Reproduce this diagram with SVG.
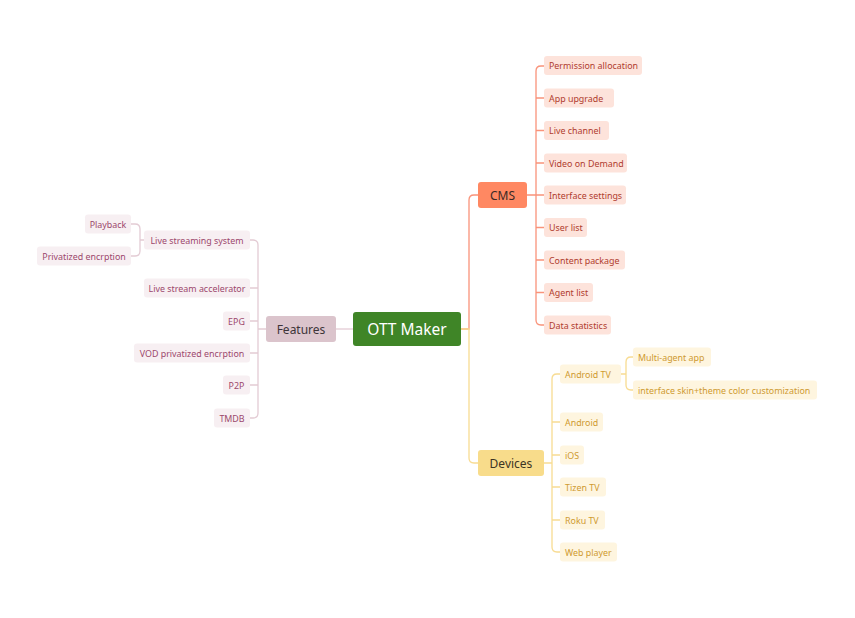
<svg xmlns="http://www.w3.org/2000/svg" width="855" height="618" viewBox="0 0 855 618">
<style>
text{font-family:"Noto Sans","Open Sans",sans-serif;dominant-baseline:central}
.c{fill:none;stroke-width:1.3}
.cc{stroke:#f9937a}
.cf{stroke:#e3cbd4}
.cd{stroke:#f8dc92}
.ct{fill:#fde3db}
.ctt{fill:#b03c2e;font-size:8.9px}
.ft{fill:#f7eff2}
.ftt{fill:#9c476c;font-size:8.9px}
.dt{fill:#fef5df}
.dtt{fill:#cf9a30;font-size:8.9px}
</style>
<rect width="855" height="618" fill="#ffffff"/>
<g id="connectors">
<path class="c cf" d="M353 329H336"/>
<path class="c cc" d="M461 329H469V200Q469 195 474 195H478"/>
<path class="c cd" d="M461 329H469V458Q469 463 474 463H478"/>
<path class="c cc" d="M527 195H544M536 195V71Q536 66 541 66H544M536 195V320Q536 325 541 325H544M536 98H544M536 130.5H544M536 163H544M536 227.5H544M536 260H544M536 292.5H544"/>
<path class="c cd" d="M544 463H552M552 463V379Q552 374 557 374H560M552 463V547Q552 552 557 552H560M552 422H560M552 455H560M552 487H560M552 520H560"/>
<path class="c cd" d="M621 374H626M626 374V362Q626 357 631 357H633M626 374V385Q626 390 631 390H633"/>
<path class="c cf" d="M266 329H258M258 329V245Q258 240 253 240H250M258 329V413Q258 418 253 418H250M258 288H250M258 321H250M258 353H250M258 385H250"/>
<path class="c cf" d="M144 240H140M140 240V229Q140 224 135 224H131M140 240V251Q140 256 135 256H131"/>
</g>
<g id="root"><rect x="353" y="312" width="108" height="34" rx="3" fill="#3f8527"/><text x="407" y="329" text-anchor="middle" fill="#ffffff" font-size="15.5">OTT Maker</text></g>
<g id="cms"><rect x="478" y="182" width="49" height="26" rx="3" fill="#ff8862"/><text x="502.5" y="195" text-anchor="middle" fill="#3a2a26" font-size="12">CMS</text></g>
<g id="features"><rect x="266" y="316" width="70" height="26" rx="3" fill="#dbc4cc"/><text x="301" y="329" text-anchor="middle" fill="#3d3438" font-size="12">Features</text></g>
<g id="devices"><rect x="478" y="450" width="66" height="26" rx="3" fill="#f8dc8b"/><text x="511" y="463" text-anchor="middle" fill="#3d3524" font-size="12">Devices</text></g>

<g id="cms1"><rect class="ct" x="544" y="56" width="98" height="19" rx="3"/><text class="ctt" x="549" y="65.5">Permission allocation</text></g>
<g id="cms2"><rect class="ct" x="544" y="88.5" width="70" height="19" rx="3"/><text class="ctt" x="549" y="98">App upgrade</text></g>
<g id="cms3"><rect class="ct" x="544" y="121" width="65" height="19" rx="3"/><text class="ctt" x="549" y="130.5">Live channel</text></g>
<g id="cms4"><rect class="ct" x="544" y="153.5" width="83" height="19" rx="3"/><text class="ctt" x="549" y="163">Video on Demand</text></g>
<g id="cms5"><rect class="ct" x="544" y="185.5" width="82" height="19" rx="3"/><text class="ctt" x="549" y="195">Interface settings</text></g>
<g id="cms6"><rect class="ct" x="544" y="218" width="43" height="19" rx="3"/><text class="ctt" x="549" y="227.5">User list</text></g>
<g id="cms7"><rect class="ct" x="544" y="250.5" width="81" height="19" rx="3"/><text class="ctt" x="549" y="260">Content package</text></g>
<g id="cms8"><rect class="ct" x="544" y="283" width="49" height="19" rx="3"/><text class="ctt" x="549" y="292.5">Agent list</text></g>
<g id="cms9"><rect class="ct" x="544" y="315.5" width="67" height="19" rx="3"/><text class="ctt" x="549" y="325">Data statistics</text></g>

<g id="f1"><rect class="ft" x="144" y="230.5" width="106" height="19" rx="3"/><text class="ftt" x="197" y="240" text-anchor="middle">Live streaming system</text></g>
<g id="f1a"><rect class="ft" x="85" y="214.5" width="46" height="19" rx="3"/><text class="ftt" x="108" y="224" text-anchor="middle">Playback</text></g>
<g id="f1b"><rect class="ft" x="37" y="246.5" width="94" height="19" rx="3"/><text class="ftt" x="84" y="256" text-anchor="middle">Privatized encrption</text></g>
<g id="f2"><rect class="ft" x="144" y="278.5" width="106" height="19" rx="3"/><text class="ftt" x="197" y="288" text-anchor="middle">Live stream accelerator</text></g>
<g id="f3"><rect class="ft" x="223" y="311.5" width="27" height="19" rx="3"/><text class="ftt" x="236.5" y="321" text-anchor="middle">EPG</text></g>
<g id="f4"><rect class="ft" x="134" y="343.5" width="116" height="19" rx="3"/><text class="ftt" x="192" y="353" text-anchor="middle">VOD privatized encrption</text></g>
<g id="f5"><rect class="ft" x="223" y="375.5" width="27" height="19" rx="3"/><text class="ftt" x="236.5" y="385" text-anchor="middle">P2P</text></g>
<g id="f6"><rect class="ft" x="214" y="408.5" width="36" height="19" rx="3"/><text class="ftt" x="232" y="418" text-anchor="middle">TMDB</text></g>

<g id="d1"><rect class="dt" x="560" y="364.5" width="61" height="19" rx="3"/><text class="dtt" x="565" y="374">Android TV</text></g>
<g id="d1a"><rect class="dt" x="633" y="347.5" width="78" height="19" rx="3"/><text class="dtt" x="638" y="357">Multi-agent app</text></g>
<g id="d1b"><rect class="dt" x="633" y="380.5" width="184" height="19" rx="3"/><text class="dtt" x="638" y="390">interface skin+theme color customization</text></g>
<g id="d2"><rect class="dt" x="560" y="412.5" width="43" height="19" rx="3"/><text class="dtt" x="565" y="422">Android</text></g>
<g id="d3"><rect class="dt" x="560" y="445.5" width="24" height="19" rx="3"/><text class="dtt" x="565" y="455">iOS</text></g>
<g id="d4"><rect class="dt" x="560" y="477.5" width="46" height="19" rx="3"/><text class="dtt" x="565" y="487">Tizen TV</text></g>
<g id="d5"><rect class="dt" x="560" y="510.5" width="45" height="19" rx="3"/><text class="dtt" x="565" y="520">Roku TV</text></g>
<g id="d6"><rect class="dt" x="560" y="542.5" width="57" height="19" rx="3"/><text class="dtt" x="565" y="552">Web player</text></g>
</svg>
